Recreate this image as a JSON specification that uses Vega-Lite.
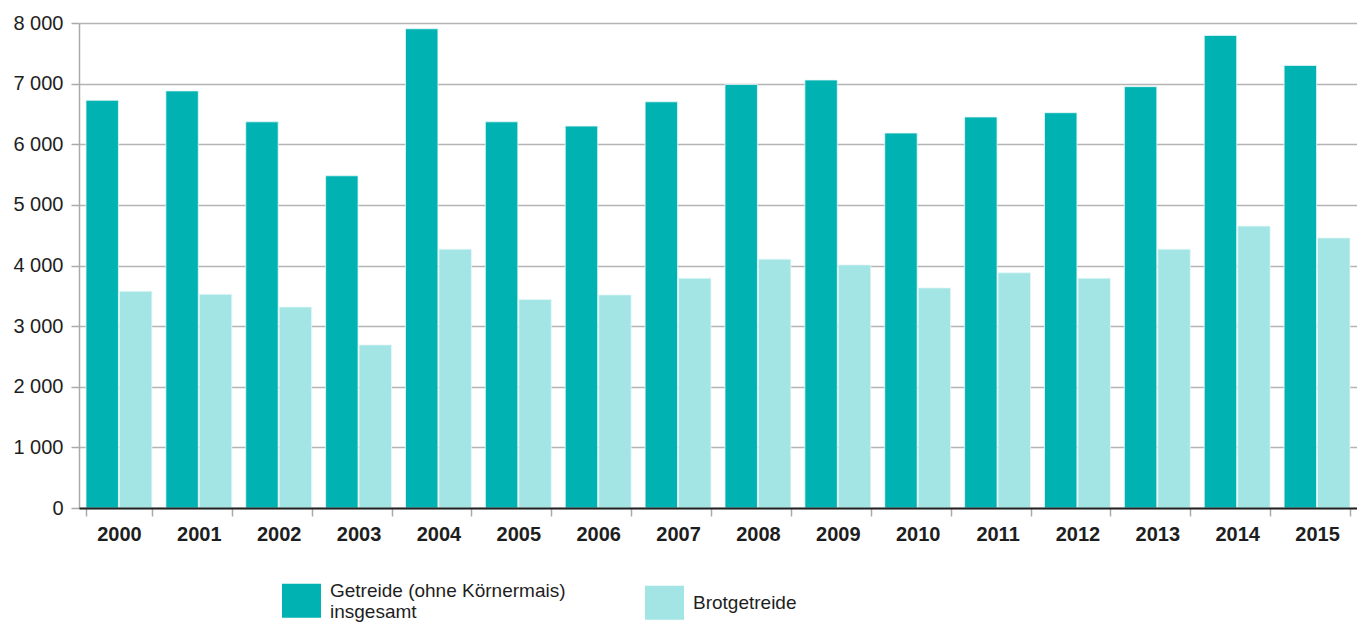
{
  "$schema": "https://vega.github.io/schema/vega-lite/v6.json",
  "width": 1278,
  "height": 485,
  "autosize": {"type": "none"},
  "padding": {"left": 79, "top": 23, "right": 0, "bottom": 117},
  "background": "white",
  "config": {"view": {"stroke": null}, "font": "Liberation Sans"},
  "data": {
    "values": [
      {"jahr": "2000", "serie": "Getreide (ohne Körnermais) insgesamt", "wert": 6725},
      {"jahr": "2000", "serie": "Brotgetreide", "wert": 3575},
      {"jahr": "2001", "serie": "Getreide (ohne Körnermais) insgesamt", "wert": 6880},
      {"jahr": "2001", "serie": "Brotgetreide", "wert": 3525},
      {"jahr": "2002", "serie": "Getreide (ohne Körnermais) insgesamt", "wert": 6370},
      {"jahr": "2002", "serie": "Brotgetreide", "wert": 3315},
      {"jahr": "2003", "serie": "Getreide (ohne Körnermais) insgesamt", "wert": 5480},
      {"jahr": "2003", "serie": "Brotgetreide", "wert": 2690},
      {"jahr": "2004", "serie": "Getreide (ohne Körnermais) insgesamt", "wert": 7905},
      {"jahr": "2004", "serie": "Brotgetreide", "wert": 4270},
      {"jahr": "2005", "serie": "Getreide (ohne Körnermais) insgesamt", "wert": 6370},
      {"jahr": "2005", "serie": "Brotgetreide", "wert": 3440},
      {"jahr": "2006", "serie": "Getreide (ohne Körnermais) insgesamt", "wert": 6300},
      {"jahr": "2006", "serie": "Brotgetreide", "wert": 3515},
      {"jahr": "2007", "serie": "Getreide (ohne Körnermais) insgesamt", "wert": 6700},
      {"jahr": "2007", "serie": "Brotgetreide", "wert": 3790},
      {"jahr": "2008", "serie": "Getreide (ohne Körnermais) insgesamt", "wert": 6985},
      {"jahr": "2008", "serie": "Brotgetreide", "wert": 4105},
      {"jahr": "2009", "serie": "Getreide (ohne Körnermais) insgesamt", "wert": 7060},
      {"jahr": "2009", "serie": "Brotgetreide", "wert": 4010},
      {"jahr": "2010", "serie": "Getreide (ohne Körnermais) insgesamt", "wert": 6185},
      {"jahr": "2010", "serie": "Brotgetreide", "wert": 3630},
      {"jahr": "2011", "serie": "Getreide (ohne Körnermais) insgesamt", "wert": 6450},
      {"jahr": "2011", "serie": "Brotgetreide", "wert": 3880},
      {"jahr": "2012", "serie": "Getreide (ohne Körnermais) insgesamt", "wert": 6520},
      {"jahr": "2012", "serie": "Brotgetreide", "wert": 3790},
      {"jahr": "2013", "serie": "Getreide (ohne Körnermais) insgesamt", "wert": 6950},
      {"jahr": "2013", "serie": "Brotgetreide", "wert": 4270},
      {"jahr": "2014", "serie": "Getreide (ohne Körnermais) insgesamt", "wert": 7795},
      {"jahr": "2014", "serie": "Brotgetreide", "wert": 4650},
      {"jahr": "2015", "serie": "Getreide (ohne Körnermais) insgesamt", "wert": 7300},
      {"jahr": "2015", "serie": "Brotgetreide", "wert": 4455}
    ]
  },
  "mark": {"type": "bar", "stroke": "#e6f7f7", "strokeWidth": 0.8},
  "encoding": {
    "x": {
      "field": "jahr",
      "type": "nominal",
      "scale": {"paddingInner": 0.175, "paddingOuter": 0.0875},
      "axis": {
        "title": null,
        "labelAngle": 0,
        "labelFont": "Liberation Sans",
        "labelFontSize": 20,
        "labelFontWeight": "bold",
        "labelColor": "#1e1e1e",
        "labelPadding": 8,
        "tickBand": "extent",
        "tickSize": 8,
        "tickColor": "#aaaaaa",
        "tickWidth": 1.5,
        "domainColor": "#222222",
        "domainWidth": 2,
        "grid": false,
        "zindex": 1
      }
    },
    "xOffset": {
      "field": "serie",
      "type": "nominal",
      "sort": ["Getreide (ohne Körnermais) insgesamt", "Brotgetreide"],
      "scale": {"paddingInner": 0.03}
    },
    "y": {
      "field": "wert",
      "type": "quantitative",
      "scale": {"domain": [0, 8000], "nice": false},
      "axis": {
        "title": null,
        "values": [0, 1000, 2000, 3000, 4000, 5000, 6000, 7000, 8000],
        "labelExpr": "replace(format(datum.value, ','), ',', ' ')",
        "labelFont": "Liberation Sans",
        "labelFontSize": 20,
        "labelColor": "#1e1e1e",
        "labelPadding": 8,
        "tickSize": 8,
        "tickColor": "#aaaaaa",
        "tickWidth": 1.5,
        "domainColor": "#aaaaaa",
        "domainWidth": 1.5,
        "gridColor": "#b4b4b4",
        "gridWidth": 1.5
      }
    },
    "color": {
      "field": "serie",
      "type": "nominal",
      "sort": ["Getreide (ohne Körnermais) insgesamt", "Brotgetreide"],
      "scale": {
        "domain": ["Getreide (ohne Körnermais) insgesamt", "Brotgetreide"],
        "range": ["#00b2b2", "#a3e4e4"]
      },
      "legend": {
        "title": null,
        "orient": "none",
        "legendX": 203,
        "legendY": 558,
        "direction": "horizontal",
        "columns": 2,
        "columnPadding": 79,
        "symbolType": "M-1,-0.87H1V0.87H-1Z",
        "symbolSize": 1520,
        "symbolStrokeWidth": 0,
        "labelFont": "Liberation Sans",
        "labelFontSize": 19,
        "labelColor": "#1e1e1e",
        "labelOffset": 9,
        "labelLimit": 400,
        "labelBaseline": {"expr": "datum.label == 'Brotgetreide' ? 'middle' : 'bottom'"},
        "labelExpr": "datum.label == 'Brotgetreide' ? datum.label : ['Getreide (ohne Körnermais)', 'insgesamt']"
      }
    }
  }
}
